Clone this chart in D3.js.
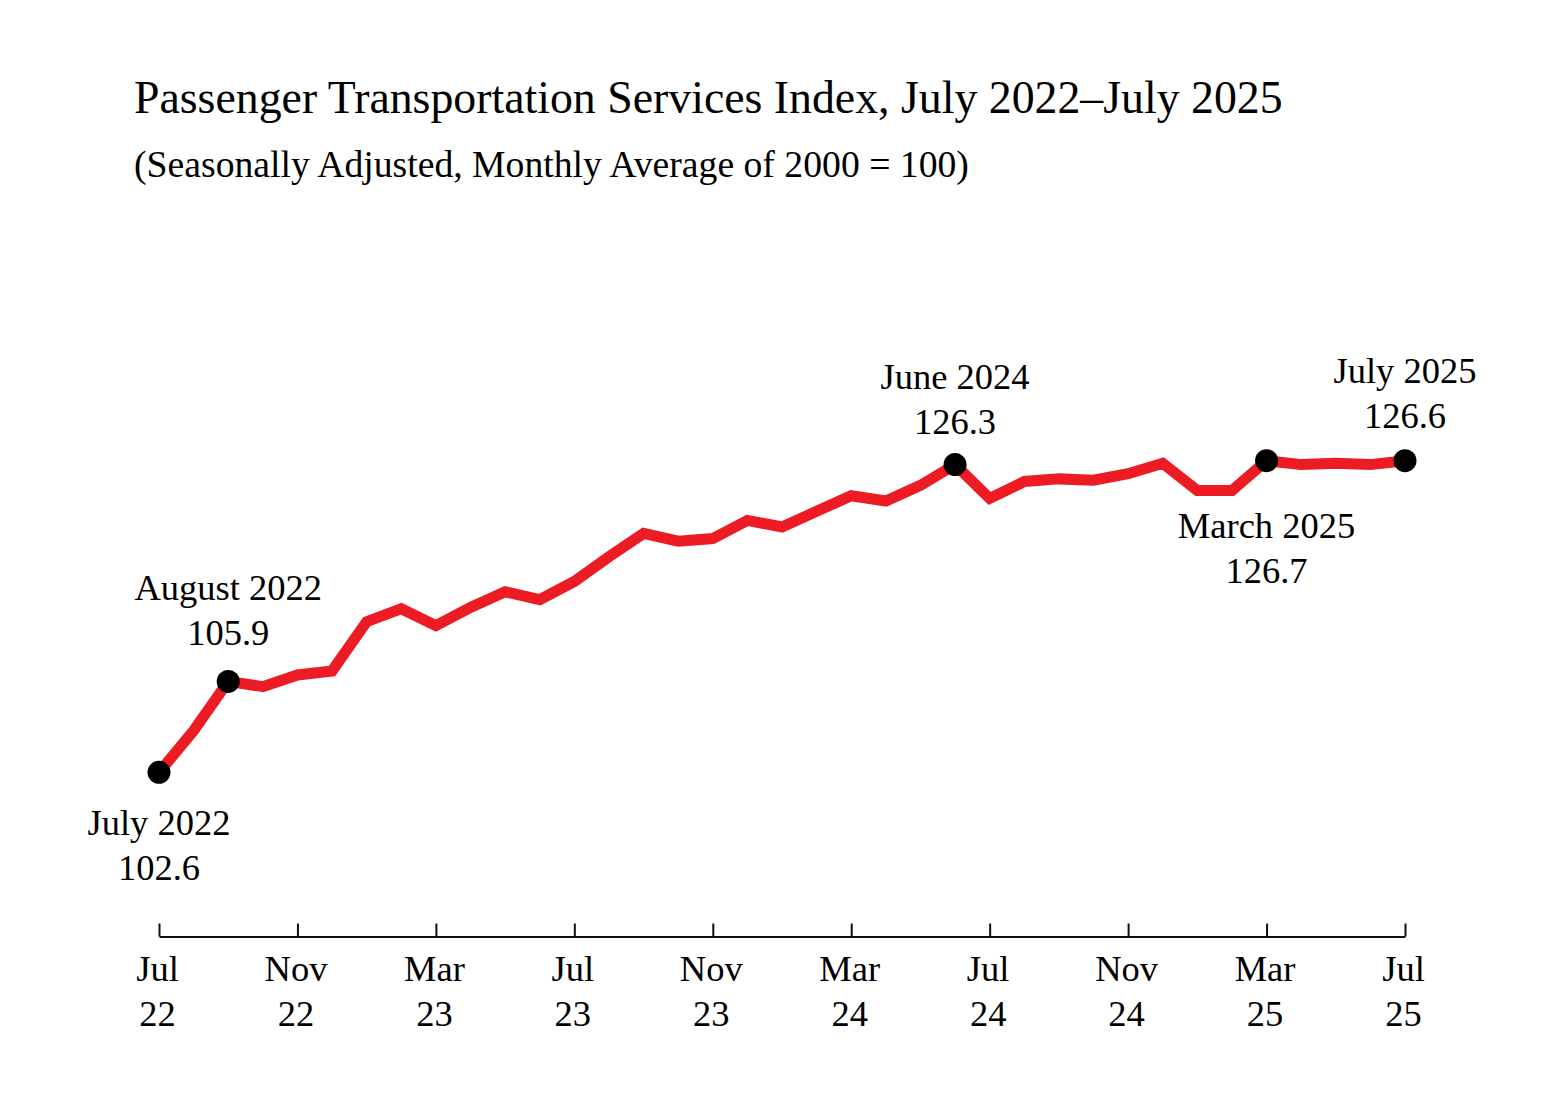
<!DOCTYPE html>
<html>
<head>
<meta charset="utf-8">
<script src="https://cdn.jsdelivr.net/npm/d3@7"></script>
<style>
  body { margin: 0; background: #fff; }
  svg { display: block; }
  text { font-family: "Liberation Serif", "Times New Roman", serif; fill: #000; }
</style>
</head>
<body>
<div id="chart"></div>
<script>
// monthly index values, Jul 2022 - Jul 2025
var months = ["2022-07","2022-08","2022-09","2022-10","2022-11","2022-12",
              "2023-01","2023-02","2023-03","2023-04","2023-05","2023-06",
              "2023-07","2023-08","2023-09","2023-10","2023-11","2023-12",
              "2024-01","2024-02","2024-03","2024-04","2024-05","2024-06",
              "2024-07","2024-08","2024-09","2024-10","2024-11","2024-12",
              "2025-01","2025-02","2025-03","2025-04","2025-05","2025-06",
              "2025-07"];
var values = [102.6, 105.8, 109.6, 109.2, 110.1, 110.4,
              114.2, 115.2, 113.9, 115.3, 116.5, 115.9,
              117.3, 119.2, 121.0, 120.4, 120.6, 122.0,
              121.5, 122.7, 123.9, 123.5, 124.7, 126.3,
              123.7, 125.0, 125.2, 125.1, 125.6, 126.4,
              124.3, 124.3, 126.6, 126.3, 126.4, 126.3,
              126.6];

// axis ticks
var tickMonths = ["2022-07","2022-11","2023-03","2023-07","2023-11","2024-03",
                  "2024-07","2024-11","2025-03","2025-07"];
var tickTop = ["Jul","Nov","Mar","Jul","Nov","Mar","Jul","Nov","Mar","Jul"];
var tickBottom = ["22","22","23","23","23","24","24","24","25","25"];

// highlighted points
var markMonths = ["2022-07","2022-09","2024-06","2025-03","2025-07"];
var markTitles = ["July 2022","August 2022","June 2024","March 2025","July 2025"];
var markValues = ["102.6","105.9","126.3","126.7","126.6"];

var titleText = "Passenger Transportation Services Index, July 2022\u2013July 2025";
var subtitleText = "(Seasonally Adjusted, Monthly Average of 2000 = 100)";

// layout
var W = 1563, H = 1096;
var axisY = 936.5;
var labelDy = [63, -81, -76, 77, -78]; // baseline of first label line, relative to dot
var lineGap = 45;

var svg = d3.select("#chart").append("svg")
    .attr("width", W)
    .attr("height", H);

svg.append("rect").attr("width", W).attr("height", H).attr("fill", "#fff");

// title
svg.append("text")
    .attr("x", 134).attr("y", 113)
    .style("font-size", "45.8px")
    .text(titleText);

svg.append("text")
    .attr("x", 134).attr("y", 177)
    .style("font-size", "37.7px")
    .text(subtitleText);

// scales
var x = d3.scalePoint().domain(months).range([159, 1405]);
var y = d3.scaleLinear().domain([100, 130]).range([806.06, 416.56]);

var data = months.map(function(m, i) { return {month: m, value: values[i]}; });
var byMonth = {};
data.forEach(function(d) { byMonth[d.month] = d; });

// x axis, ticks pointing up
var xAxis = d3.axisBottom(x)
    .tickValues(tickMonths)
    .tickSizeInner(-13)
    .tickSizeOuter(0)
    .tickFormat("");

var gx = svg.append("g")
    .attr("transform", "translate(0," + axisY + ")")
    .call(xAxis);
gx.select(".domain").attr("stroke", "#111").attr("stroke-width", 2);
gx.selectAll(".tick line").attr("stroke", "#111").attr("stroke-width", 2);
gx.selectAll(".tick text").remove();

var tl = gx.selectAll(".tick");
tl.each(function(d) {
    var i = tickMonths.indexOf(d);
    var t = d3.select(this).append("text")
        .attr("text-anchor", "middle")
        .style("font-size", "36.5px")
        .attr("fill", "#000");
    t.append("tspan").attr("x", -2).attr("y", 44.5).text(tickTop[i]);
    t.append("tspan").attr("x", -2).attr("y", 89.5).text(tickBottom[i]);
});

// the line
var valueline = d3.line()
    .x(function(d) { return x(d.month); })
    .y(function(d) { return y(d.value); });

svg.append("path")
    .datum(data)
    .attr("fill", "none")
    .attr("stroke", "#ED1C24")
    .attr("stroke-width", 11)
    .attr("stroke-linejoin", "miter")
    .attr("d", valueline);

// marked points and their labels
var marks = markMonths.map(function(m, i) {
    return {month: m, value: byMonth[m].value, title: markTitles[i], label: markValues[i], dy: labelDy[i]};
});

svg.selectAll(".dot")
    .data(marks)
  .enter().append("circle")
    .attr("class", "dot")
    .attr("cx", function(d) { return x(d.month); })
    .attr("cy", function(d) { return y(d.value); })
    .attr("r", 11.5)
    .attr("fill", "#000");

var lab = svg.selectAll(".mark-label")
    .data(marks)
  .enter().append("text")
    .attr("class", "mark-label")
    .attr("text-anchor", "middle")
    .style("font-size", "36.5px");

lab.append("tspan")
    .attr("x", function(d) { return x(d.month); })
    .attr("y", function(d) { return y(d.value) + d.dy; })
    .text(function(d) { return d.title; });
lab.append("tspan")
    .attr("x", function(d) { return x(d.month); })
    .attr("y", function(d) { return y(d.value) + d.dy + lineGap; })
    .text(function(d) { return d.label; });
</script>
</body>
</html>
